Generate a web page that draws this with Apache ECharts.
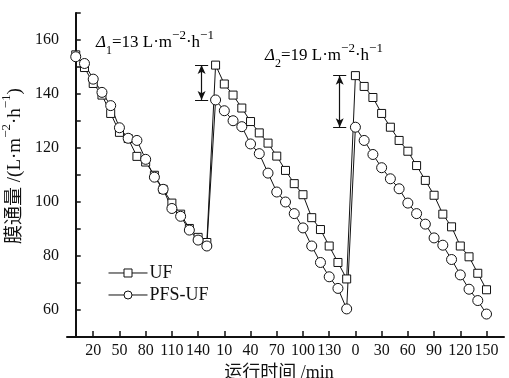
<!DOCTYPE html>
<html>
<head>
<meta charset="utf-8">
<script src="https://cdn.jsdelivr.net/npm/echarts@6/dist/echarts.min.js"></script>
<style>
  html, body { margin: 0; padding: 0; background: #fff; }
  #chart { width: 509px; height: 378px; }
</style>
</head>
<body>
<div id="chart"></div>
<script>
// run time within each filtration cycle (min)
const cycleTimes = [0, 10, 20, 30, 40, 50, 60, 70, 80, 90, 100, 110, 120, 130, 140, 150]
// where each cycle starts on the continuous time axis
const cycleStarts = [0, 160, 320]
const tickTimes = [20, 50, 80, 110, 140, 170, 200, 230, 260, 290, 320, 350, 380, 410, 440, 470]

const ufFlux = [
  [154.5, 149.8, 143.9, 139.6, 132.8, 125.8, 123.5, 116.9, 114.8, 109.9, 104.7, 99.6, 95.5, 90.2, 86.9, 85.0],
  [150.7, 143.7, 139.6, 134.8, 129.8, 125.6, 121.8, 117.0, 111.7, 106.8, 102.7, 94.2, 89.8, 83.7, 77.6, 71.5],
  [146.8, 142.8, 138.7, 132.8, 127.7, 122.8, 118.8, 113.5, 108.0, 102.5, 95.5, 90.8, 83.7, 79.7, 73.6, 67.5],
]
const pfsFlux = [
  [153.8, 151.3, 145.5, 140.6, 135.7, 127.5, 123.6, 122.8, 115.8, 109.2, 104.7, 97.6, 94.7, 89.6, 85.9, 83.7],
  [137.8, 133.8, 130.1, 127.9, 121.5, 117.9, 110.7, 103.7, 100.0, 95.7, 90.4, 83.7, 77.6, 72.3, 68.0, 60.4],
  [127.7, 122.8, 117.6, 112.7, 108.6, 104.9, 99.6, 95.7, 91.8, 86.7, 84.0, 78.7, 73.0, 67.7, 63.5, 58.5],
]
// flux recovery gap arrows, drawn just before cycle 2 and cycle 3
const deltaArrowTimes = [144, 302]
const deltaLabels = ['1', '2']
const deltaValues = [13, 19]

const serif = '"Liberation Serif", "Noto Sans CJK SC", serif'

function toPoints(flux) {
  const out = []
  flux.forEach((cycle, c) => {
    cycle.forEach((v, i) => out.push([cycleStarts[c] + cycleTimes[i], v]))
  })
  return out
}

function cycleLabel(t) {
  let start = 0
  cycleStarts.forEach((s) => { if (t >= s) start = s })
  return String(t - start)
}

const arrowLines = []
const capLines = []
deltaArrowTimes.forEach((t, k) => {
  const top = ufFlux[k + 1][0]
  const bottom = pfsFlux[k + 1][0]
  arrowLines.push([{ coord: [t, top] }, { coord: [t, bottom] }])
  capLines.push([{ coord: [t - 7.5, top] }, { coord: [t + 7.5, top] }])
  capLines.push([{ coord: [t - 7.5, bottom] }, { coord: [t + 7.5, bottom] }])
})

const richText = {
  d: { fontFamily: serif, fontStyle: 'italic', fontSize: 17, lineHeight: 20, color: '#111' },
  n: { fontFamily: serif, fontSize: 17, lineHeight: 20, color: '#111' },
  sub: { fontFamily: serif, fontSize: 12, lineHeight: 20, verticalAlign: 'bottom', padding: [0, 0, -4, 0], color: '#111' },
  sup: { fontFamily: serif, fontSize: 13, lineHeight: 20, verticalAlign: 'top', padding: [-4, 0, 0, 0], color: '#111' },
}

function deltaText(k) {
  return '{d|Δ}{sub|' + deltaLabels[k] + '}{n|=' + deltaValues[k] + ' L·m}{sup|−2}{n|·h}{sup|−1}'
}

const chart = echarts.init(document.getElementById('chart'), null, { renderer: 'canvas' })

chart.setOption({
  animation: false,
  backgroundColor: '#fff',
  grid: { left: 67, right: 5, top: 13, bottom: 41, outerBoundsMode: 'none' },
  legend: {
    orient: 'vertical',
    left: 103,
    top: 259,
    itemWidth: 39,
    itemHeight: 10,
    itemGap: 4,
    lineStyle: { width: 1 },
    itemStyle: { borderWidth: 1 },
    textStyle: { fontFamily: serif, fontSize: 18, color: '#111', padding: [0, 0, 0, -3] },
    data: ['UF', 'PFS-UF'],
  },
  graphic: [
    { type: 'text', left: 96, top: 29, style: { text: deltaText(0), rich: richText } },
    { type: 'text', left: 265, top: 42, style: { text: deltaText(1), rich: richText } },
  ],
  xAxis: {
    type: 'value',
    min: -10,
    max: 490,
    name: '运行时间 /min',
    nameLocation: 'middle',
    nameGap: 22,
    nameTextStyle: { fontFamily: serif, fontSize: 18, color: '#111', padding: [0, 13, 0, 0] },
    axisLine: { lineStyle: { color: '#111', width: 2 } },
    axisTick: { inside: true, length: 6, customValues: tickTimes, lineStyle: { color: '#111', width: 1.5 } },
    axisLabel: {
      customValues: tickTimes,
      formatter: (v) => cycleLabel(v),
      fontFamily: serif,
      fontSize: 16,
      color: '#111',
      margin: 6,
    },
    splitLine: { show: false },
  },
  yAxis: {
    type: 'value',
    min: 50,
    max: 170,
    interval: 10,
    name: '{n|膜通量 /(L·m}{sup|−2}{n|·h}{sup|−1}{n|)}',
    nameLocation: 'middle',
    nameGap: 38,
    nameTextStyle: {
      padding: [0, 0, 0, 18],
      rich: {
        n: { fontFamily: serif, fontSize: 19, lineHeight: 22, color: '#111' },
        sup: { fontFamily: serif, fontSize: 13, lineHeight: 22, verticalAlign: 'top', padding: [-4, 0, 0, 0], color: '#111' },
      },
    },
    axisLine: { lineStyle: { color: '#111', width: 2 } },
    axisTick: { inside: true, length: 5, lineStyle: { color: '#111', width: 1.5 } },
    axisLabel: {
      formatter: (v) => (v >= 60 && v <= 160 && (v - 60) % 20 === 0 ? String(v) : ''),
      fontFamily: serif,
      fontSize: 16,
      color: '#111',
      margin: 8,
    },
    splitLine: { show: false },
  },
  series: [
    {
      name: 'UF',
      type: 'line',
      data: toPoints(ufFlux),
      symbol: 'rect',
      symbolSize: 8,
      showAllSymbol: true,
      lineStyle: { color: '#111', width: 1 },
      itemStyle: { color: '#fff', borderColor: '#111', borderWidth: 1 },
      markLine: {
        silent: true,
        symbol: 'none',
        label: { show: false },
        lineStyle: { color: '#111', width: 1, type: 'solid' },
        data: capLines,
      },
    },
    {
      name: 'PFS-UF',
      type: 'line',
      data: toPoints(pfsFlux),
      symbol: 'circle',
      symbolSize: 10,
      showAllSymbol: true,
      lineStyle: { color: '#111', width: 1 },
      itemStyle: { color: '#fff', borderColor: '#111', borderWidth: 1 },
      markLine: {
        silent: true,
        symbol: ['arrow', 'arrow'],
        symbolSize: [6, 9],
        label: { show: false },
        lineStyle: { color: '#111', width: 1.2, type: 'solid' },
        itemStyle: { color: '#111' },
        data: arrowLines,
      },
    },
  ],
})
</script>
</body>
</html>
